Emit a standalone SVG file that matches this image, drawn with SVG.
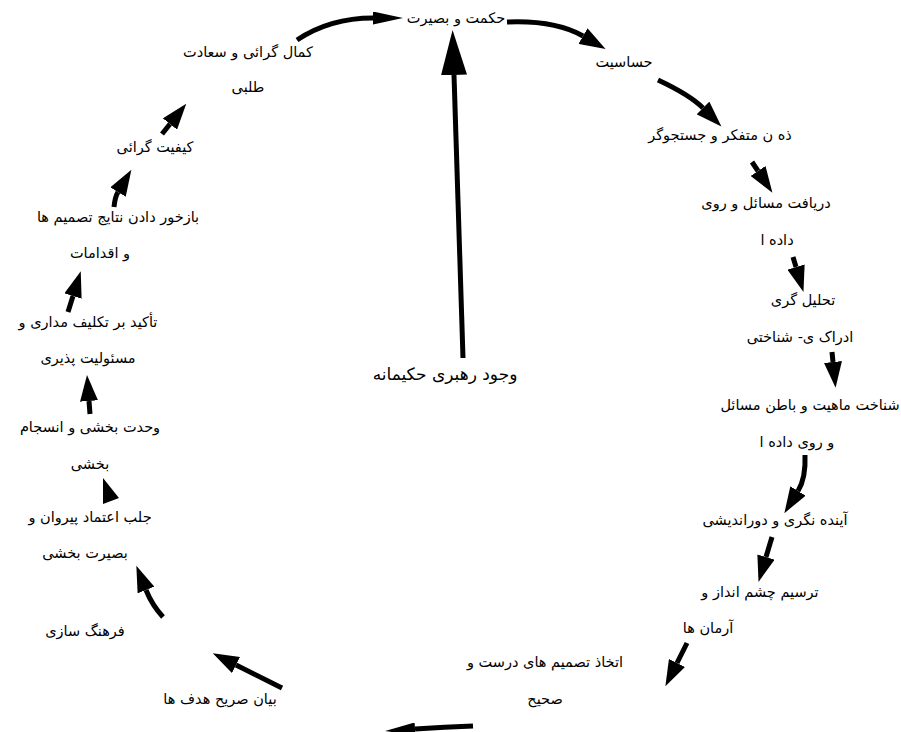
<svg xmlns="http://www.w3.org/2000/svg" width="901" height="732" viewBox="0 0 901 732">
<style>
.lbl{font-family:"DejaVu Sans","Noto Sans",sans-serif;font-size:14.5px;fill:#000;text-anchor:middle}
.ctr{font-family:"DejaVu Sans","Noto Sans",sans-serif;font-size:17px;fill:#000;text-anchor:middle}
.cn{fill:none;stroke:#000;stroke-width:5;stroke-linecap:butt}
</style>
<defs>
<marker id="h" markerUnits="userSpaceOnUse" markerWidth="27" markerHeight="18" refX="0" refY="9" orient="auto"><path d="M0,0 L26,9 L0,18 z" fill="#000"/></marker>
<marker id="ht" markerUnits="userSpaceOnUse" markerWidth="31" markerHeight="13" refX="0" refY="6.5" orient="auto"><path d="M0,0 L30,6.5 L0,13 z" fill="#000"/></marker>
<marker id="hb" markerUnits="userSpaceOnUse" markerWidth="46" markerHeight="26" refX="0" refY="13" orient="auto"><path d="M0,0 L45,13 L0,26 z" fill="#000"/></marker>
</defs>
<rect width="901" height="732" fill="#fff"/>
<g id="connectors">
<path class="cn" d="M297,40 Q330,18 373,18" marker-end="url(#ht)"/>
<path class="cn" d="M507,22 Q555,20 583,36" marker-end="url(#h)"/>
<path class="cn" d="M658,80 Q690,95 703,108" marker-end="url(#h)"/>
<path class="cn" d="M752,162 L758,171" marker-end="url(#h)"/>
<path class="cn" d="M793,257 L796,267" marker-end="url(#h)"/>
<path class="cn" d="M832,352 L833,362" marker-end="url(#h)"/>
<path class="cn" d="M805,455 Q806,478 798,491" marker-end="url(#h)"/>
<path class="cn" d="M772,537 L766,557" marker-end="url(#h)"/>
<path class="cn" d="M687,643 L677,663" marker-end="url(#h)"/>
<path class="cn" d="M473,726 Q445,727 415,729" marker-end="url(#ht)"/>
<path class="cn" d="M282,688 L236,665" marker-end="url(#h)"/>
<path class="cn" d="M163,617 Q152,605 146,590" marker-end="url(#h)"/>
<polygon points="103,478 119,498 103,504" fill="#000"/>
<path class="cn" d="M90,414 L89,401" marker-end="url(#h)"/>
<path class="cn" d="M68,312 L73,296" marker-end="url(#h)"/>
<path class="cn" d="M114,207 Q115,197 118,192" marker-end="url(#h)"/>
<path class="cn" d="M162,134 L170,124" marker-end="url(#h)"/>
<path class="cn" d="M463,358 L454,75" marker-end="url(#hb)"/>
</g>
<g id="n1"><text class="lbl" x="456" y="23">حکمت و بصیرت</text></g>
<g id="n2"><text class="lbl" x="624" y="67">حساسیت</text></g>
<g id="n3"><text class="lbl" x="720" y="140">ذه ن متفکر و جستجوگر</text></g>
<g id="n4"><text class="lbl" x="766" y="208">دریافت مسائل و روی</text><text class="lbl" x="777" y="245">داده ا</text></g>
<g id="n5"><text class="lbl" x="803" y="305">تحلیل گری</text><text class="lbl" x="800" y="342">ادراک ی- شناختی</text></g>
<g id="n6"><text class="lbl" x="810" y="410">شناخت ماهیت و باطن مسائل</text><text class="lbl" x="797" y="447">و روی داده ا</text></g>
<g id="n7"><text class="lbl" x="775" y="525">آینده نگری و دوراندیشی</text></g>
<g id="n8"><text class="lbl" x="760" y="597">ترسیم چشم انداز و</text><text class="lbl" x="708" y="633">آرمان ها</text></g>
<g id="n9"><text class="lbl" x="545" y="667">اتخاذ تصمیم های درست و</text><text class="lbl" x="545" y="704">صحیح</text></g>
<g id="n10"><text class="lbl" x="220" y="704">بیان صریح هدف ها</text></g>
<g id="n11"><text class="lbl" x="85" y="636">فرهنگ سازی</text></g>
<g id="n12"><text class="lbl" x="90" y="522">جلب اعتماد پیروان و</text><text class="lbl" x="85" y="558">بصیرت بخشی</text></g>
<g id="n13"><text class="lbl" x="90" y="432">وحدت بخشی و انسجام</text><text class="lbl" x="90" y="469">بخشی</text></g>
<g id="n14"><text class="lbl" x="88" y="327">تأکید بر تکلیف مداری و</text><text class="lbl" x="88" y="363">مسئولیت پذیری</text></g>
<g id="n15"><text class="lbl" x="118" y="222">بازخور دادن  نتایج تصمیم ها</text><text class="lbl" x="100" y="258">و اقدامات</text></g>
<g id="n16"><text class="lbl" x="155" y="152">کیفیت گرائی</text></g>
<g id="n17"><text class="lbl" x="248" y="57">کمال گرائی و سعادت</text><text class="lbl" x="248" y="92">طلبی</text></g>
<g id="center"><text class="ctr" x="445" y="380">وجود رهبری حکیمانه</text></g>
</svg>
